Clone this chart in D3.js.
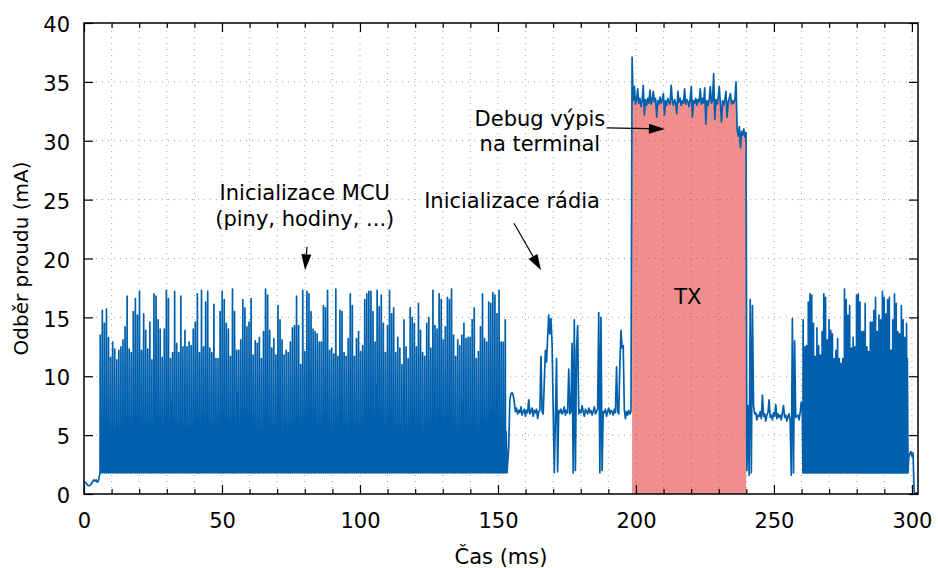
<!DOCTYPE html>
<html>
<head>
<meta charset="utf-8">
<script src="https://cdn.jsdelivr.net/npm/d3@7"></script>
<style>
  html, body { margin: 0; padding: 0; background: #fff; }
  svg { display: block; font-family: "DejaVu Sans", sans-serif; }
</style>
</head>
<body>
<svg id="chart" width="938" height="568"></svg>
<script>
// --- data (time in ms, current in mA) ---

// idle before start, 0 .. 5.2 ms
const startUp = [1.1, 1.0, 0.9, 0.8, 0.7, 0.7, 0.8, 0.9, 1.1, 1.2, 1.1, 1.2, 1.0, 1.1];
const startUpSpan = [0, 5.2];

// MCU init burst: pulse tops and in-between levels, trace returns to burstLow between them
const burstLow = 1.8;
const burst1Span = [5.8, 153.3];
const burst1Tops = [
  13.5, 15.6, 14.5, 15.7, 13.3, 11.6, 12.9, 12.3, 11.4, 12.2, 12.5, 13.1, 14.2, 16.8, 12.3, 12.0,
  15.5, 16.6, 15.2, 17.2, 12.2, 15.3, 13.9, 12.3, 14.6, 11.4, 17.0, 16.8, 14.8, 14.0, 11.6, 14.0,
  17.3, 16.6, 11.5, 12.0, 17.2, 12.8, 12.0, 16.8, 12.5, 13.9, 12.5, 12.9, 12.6, 14.0, 14.6, 17.0,
  12.0, 17.3, 12.5, 16.3, 17.2, 12.4, 12.0, 16.1, 11.5, 11.5, 15.5, 17.2, 16.5, 14.5, 14.0, 11.7,
  17.4, 15.5, 12.2, 12.2, 13.1, 16.5, 15.8, 14.2, 14.6, 16.6, 11.8, 13.0, 12.8, 13.3, 11.5, 13.8,
  17.4, 16.9, 13.9, 12.4, 13.2, 11.8, 16.0, 14.8, 13.1, 11.8, 12.2, 12.0, 12.9, 14.1, 14.3, 16.8,
  14.3, 11.0, 17.3,
  12.1, 17.2, 17.0, 15.5, 14.0, 13.8, 13.6, 12.9, 12.9, 16.0, 15.8, 17.3, 12.2, 12.4, 11.9, 17.4,
  11.7, 15.6, 15.5, 12.0, 11.7, 13.2, 17.0, 16.0, 11.7, 13.2, 13.8, 12.1, 12.6, 16.5, 17.0, 17.2,
  17.2, 15.5, 12.9, 17.3, 15.9, 16.9, 14.5, 12.0, 14.3, 17.3, 15.3, 15.8, 12.0, 13.3, 12.4, 11.0,
  14.8,
  12.5, 11.5, 15.8, 15.0, 14.5, 12.5, 16.2, 13.9, 12.0, 11.7, 14.5, 15.0, 12.4, 17.3, 14.3, 14.0,
  17.0, 16.5, 13.1, 14.2, 16.7, 16.5, 17.4, 13.5, 11.7, 13.1, 12.6, 13.5, 14.5, 13.2, 13.3, 13.3,
  14.8, 15.8, 11.5, 12.1, 14.2, 17.0, 13.2, 12.9, 16.3, 16.2, 17.1, 16.9, 15.3, 17.3, 12.9, 12.9,
  14.8
];
const burst1Mids = [
  5.2, 4.6, 5.8, 4.9, 5.4, 3.8, 5.6, 5.0, 6.1, 4.4, 5.3, 5.9, 4.7, 5.1, 2.6, 5.5, 4.9, 6.3, 5.2, 4.5,
  5.7, 5.0, 4.2, 5.4, 6.0, 4.8, 5.3, 3.5, 5.6, 5.1, 4.9, 5.8, 5.2, 4.4, 7.8, 5.0, 5.5, 4.7, 5.9, 5.3,
  4.8, 5.6, 2.4, 5.1, 5.7, 4.6, 5.3, 6.2, 4.9, 5.0, 5.5, 4.3, 5.8, 5.2, 4.7, 5.4, 3.2, 5.6, 5.0, 6.0,
  4.5, 5.3, 5.1, 4.8, 5.9, 5.2, 8.6, 4.9, 5.4, 4.6, 5.7, 5.0, 3.9, 5.5, 5.2, 4.7, 6.1, 5.3, 4.8, 5.6,
  5.1, 2.8, 5.4, 4.9, 5.8, 5.0, 4.4, 5.6, 5.2, 6.4, 4.7, 5.3, 5.0, 4.6, 5.7, 3.6, 5.2, 5.5, 4.9, 5.1,
  5.9, 4.8, 5.3, 7.2, 5.0, 4.5, 5.6, 5.2, 4.9, 5.4, 2.5, 5.7, 5.1, 4.7, 5.8, 5.0, 5.3, 4.4, 6.0, 5.2,
  4.8, 5.5, 5.1, 3.7, 5.6, 4.9, 5.3, 5.0, 6.2, 4.6, 5.4, 5.2, 4.8, 9.2, 5.1, 5.7, 4.5, 5.3, 5.0, 4.9,
  5.6, 5.2, 2.7, 5.4, 4.8, 5.9, 5.1, 4.6, 5.5, 5.0, 5.3, 6.1, 4.7, 5.2, 3.4, 5.6, 5.0, 4.9, 5.7, 5.1,
  4.5, 5.4, 5.2, 6.3, 4.8, 5.0, 5.5, 2.9, 5.3, 4.7, 5.8, 5.1, 4.9, 5.6, 5.2, 7.5, 4.6, 5.3, 5.0, 5.4,
  4.8, 5.7, 5.1, 3.3, 5.5, 4.9, 5.2, 6.0, 4.6, 5.3, 5.0, 5.6, 4.7, 5.4, 5.1, 4.9, 5.3
];

// radio init, 153.9 .. 198.2 ms
const radioInit = [
  4.0, 8.0, 8.5, 8.6, 8.4, 7.8, 7.0, 7.3,
  6.8, 7.1, 6.9, 7.4, 6.7, 7.0, 7.2, 6.6, 7.1, 6.9, 8.0, 6.8, 7.0, 7.3, 6.6, 7.1, 6.9, 7.2, 6.4, 7.0, 7.1,
  11.7, 7.0, 6.8, 9.5, 12.2, 11.2, 13.3, 15.2, 13.6, 14.9, 12.8, 7.2, 1.8, 6.5, 11.5, 1.9, 7.1,
  6.9, 7.2, 6.8, 7.0, 7.4, 6.7, 7.1, 6.9,
  10.6, 6.8, 7.0, 12.8, 1.8, 14.8, 2.0, 12.2, 14.3, 6.8,
  7.1, 6.9, 7.5, 7.0, 6.6, 7.2, 7.0, 6.8, 7.3, 6.9, 7.1, 6.7, 7.0, 7.4, 6.8, 7.0,
  7.2, 15.4, 1.8, 15.0, 2.0, 7.0,
  6.9, 7.2, 6.6, 7.0, 7.3, 6.8, 7.1, 7.0, 6.7, 7.2, 6.9,
  10.8, 7.0, 6.8, 11.0, 13.9, 12.4, 12.6, 7.2, 6.4, 7.0, 6.7, 7.1, 6.8, 7.0
];
const radioSpan = [153.9, 198.2];

// TX + debug output to terminal, 198.6 .. 239.9 ms
const txDebug = [
  37.1, 33.4, 34.6, 33.1, 33.5, 34.4, 33.2, 33.6, 32.9, 33.4, 34.7, 32.2, 33.5, 33.0, 33.6, 33.2,
  34.3, 33.1, 33.5, 34.2, 33.3, 33.6, 32.0, 33.4, 33.1, 33.7, 33.2, 33.5, 34.0, 32.2, 33.4, 33.0,
  33.6, 33.3, 33.1, 34.7, 33.4, 33.0, 33.5, 33.2, 32.3, 34.2, 33.3, 33.6, 33.0, 33.4, 33.2, 34.4,
  33.1, 33.5, 33.3, 32.9, 33.6, 34.6, 32.0, 33.4, 33.2, 33.6, 33.0, 33.5, 33.3, 34.4, 33.1, 33.6,
  33.2, 34.5, 31.4, 33.4, 33.0, 33.5, 34.6, 33.2, 33.4, 35.7, 31.8, 33.5, 33.1, 33.6, 34.6, 33.2,
  31.6, 33.4, 33.0, 33.5, 34.2, 32.0, 33.3, 33.6, 34.0, 33.1, 33.4, 33.2, 33.5, 35.0,
  31.0, 30.4, 31.2, 29.4, 30.8, 30.5, 31.0, 30.3, 30.7
];
const txSpan = [198.6, 239.9];

// after TX, 240.2 .. 260.3 ms
const postTx = [
  2.0, 7.5, 1.6, 16.5, 1.8, 16.0, 7.5, 6.8,
  6.9, 6.3, 6.7, 6.6, 7.0, 6.4, 8.4, 6.6, 6.8, 6.2, 6.7, 6.9, 8.0, 6.5, 6.7, 6.3, 6.9, 6.6,
  7.6, 6.4, 6.8, 6.5, 6.7, 6.3, 6.9, 7.5, 6.5, 6.7, 6.2, 6.6, 6.8, 6.2,
  1.6, 14.9, 1.8, 13.0, 6.5,
  6.6, 6.7, 6.3, 6.9, 7.8, 6.8
];
const postTxSpan = [240.2, 260.3];

// second burst, 260.5 .. 298.6 ms
const burst2Span = [260.5, 298.6];
const burst2Tops = [
  14.8, 12.5, 12.6, 16.3, 17.0, 16.9, 14.5, 11.7, 14.1, 12.6, 11.8, 13.8, 17.0, 16.7, 13.1, 14.8,
  13.9, 13.6, 11.5, 12.2, 13.2, 11.5, 11.1, 11.5, 17.4, 16.5, 15.2, 16.0, 12.4, 13.3, 12.5,
  16.9, 17.0, 16.3, 13.8, 13.8, 16.2, 12.5, 12.1, 14.6, 14.6, 15.6, 16.7, 13.8, 15.2, 14.8,
  17.2, 16.7, 15.3, 16.5, 16.7, 12.2, 14.8, 17.0, 16.2, 13.8, 13.6, 16.0, 14.8, 13.3, 14.5
];
const burst2Mids = [
  5.3, 4.8, 5.6, 5.0, 2.6, 5.4, 4.9, 5.8, 5.1, 4.6, 5.5, 5.2, 6.4, 4.8, 5.3, 3.1,
  5.7, 5.0, 4.7, 5.4, 5.2, 5.9, 4.6, 5.1, 2.8, 5.5, 5.0, 5.3, 4.9, 5.6, 5.2,
  11.6, 12.2, 10.8, 11.9, 12.4, 11.3, 10.6, 12.0, 11.7, 12.6, 11.1, 11.8, 12.3, 10.9, 11.5,
  12.1, 11.4, 12.5, 11.0, 11.8, 12.2, 11.3, 10.7, 12.0, 11.6, 12.4, 11.2, 11.9, 12.1, 11.5
];

// end of capture, 298.8 .. 302.4 ms
const tail = [3.0, 3.4, 3.6, 3.2, 3.5, 0.2, 0.0, 0.1, 0.0, 0.0];
const tailSpan = [298.8, 302.4];

const xRange = [0, 302.2];
const yRange = [0, 40];
const xMajorTicks = [0, 50, 100, 150, 200, 250, 300];
const yTicks = [0, 5, 10, 15, 20, 25, 30, 35, 40];

// --- helpers ---
function uniform(values, span) {
  const dt = (span[1] - span[0]) / (values.length - 1);
  return values.map((v, i) => ({ t: span[0] + i * dt, v }));
}
// one period = short tall pulse, then a wider low-level pulse
function pulses(tops, mids, span, low) {
  const dt = (span[1] - span[0]) / tops.length;
  const pts = [];
  tops.forEach((peak, i) => {
    const t0 = span[0] + i * dt;
    pts.push({ t: t0, v: low }, { t: t0 + dt * 0.12, v: peak },
             { t: t0 + dt * 0.26, v: low }, { t: t0 + dt * 0.58, v: mids[i] });
  });
  pts.push({ t: span[1], v: low });
  return pts;
}

const txPts = uniform(txDebug, txSpan);
const trace = [].concat(
  uniform(startUp, startUpSpan),
  pulses(burst1Tops, burst1Mids, burst1Span, burstLow),
  uniform(radioInit, radioSpan),
  txPts,
  uniform(postTx, postTxSpan),
  pulses(burst2Tops, burst2Mids, burst2Span, burstLow),
  uniform(tail, tailSpan)
);

// --- layout ---
const margin = { left: 84, right: 20, top: 23, bottom: 74 };
const W = 938, H = 568;
const x = d3.scaleLinear().domain(xRange).range([margin.left, W - margin.right]);
const y = d3.scaleLinear().domain(yRange).range([H - margin.bottom, margin.top]);
const blue = '#0060ad';

const svg = d3.select('#chart');
const plotBottom = y(yRange[0]), plotTop = y(yRange[1]);
const plotLeft = x(xRange[0]), plotRight = x(xRange[1]);

svg.append('clipPath').attr('id', 'plot-clip')
  .append('rect')
  .attr('x', plotLeft).attr('y', plotTop)
  .attr('width', plotRight - plotLeft)
  .attr('height', plotBottom - plotTop);

// grid
const minorX = d3.range(10, 301, 10);
const grid = svg.append('g').attr('stroke', '#a0a0a0').attr('stroke-width', 1)
  .attr('stroke-dasharray', '1,5');
grid.selectAll('line.gx').data(minorX).enter().append('line')
  .attr('x1', d => x(d)).attr('x2', d => x(d))
  .attr('y1', plotBottom).attr('y2', plotTop);
grid.selectAll('line.gy').data(yTicks.slice(1, -1)).enter().append('line')
  .attr('x1', plotLeft).attr('x2', plotRight)
  .attr('y1', d => y(d)).attr('y2', d => y(d));

const plot = svg.append('g').attr('clip-path', 'url(#plot-clip)');

// TX area
plot.append('path')
  .datum(txPts)
  .attr('fill', 'rgb(226,28,28)')
  .attr('fill-opacity', 0.5)
  .attr('d', d3.area().x(d => x(d.t)).y0(y(0)).y1(d => y(d.v)));

// current trace
plot.append('path')
  .datum(trace)
  .attr('fill', 'none')
  .attr('stroke', blue)
  .attr('stroke-width', 1.7)
  .attr('stroke-linejoin', 'round')
  .attr('d', d3.line().x(d => x(d.t)).y(d => y(d.v)));

// axes, ticks pointing inward
const minorOnly = minorX.filter(d => d % 50 !== 0);

function styleAxis(g) {
  g.select('.domain').remove();
  g.selectAll('line').attr('stroke', '#000').attr('stroke-width', 1.2);
  g.selectAll('text').attr('fill', '#000').style('font-size', '21px')
    .style('font-family', '"DejaVu Sans", sans-serif');
}

svg.append('g').attr('transform', `translate(0,${plotBottom})`)
  .call(d3.axisBottom(x).tickValues(xMajorTicks).tickSize(-9).tickPadding(19).tickSizeOuter(0))
  .call(styleAxis);
svg.append('g').attr('transform', `translate(0,${plotBottom})`)
  .call(d3.axisBottom(x).tickValues(minorOnly).tickSize(-5).tickFormat('').tickSizeOuter(0))
  .call(styleAxis);
svg.append('g').attr('transform', `translate(0,${plotTop})`)
  .call(d3.axisTop(x).tickValues(xMajorTicks).tickSize(-9).tickFormat('').tickSizeOuter(0))
  .call(styleAxis);
svg.append('g').attr('transform', `translate(0,${plotTop})`)
  .call(d3.axisTop(x).tickValues(minorOnly).tickSize(-5).tickFormat('').tickSizeOuter(0))
  .call(styleAxis);
svg.append('g').attr('transform', `translate(${plotLeft},0)`)
  .call(d3.axisLeft(y).tickValues(yTicks).tickSize(-9).tickPadding(14).tickSizeOuter(0))
  .call(styleAxis)
  .selectAll('text').attr('dy', '0.41em');
svg.append('g').attr('transform', `translate(${plotRight},0)`)
  .call(d3.axisRight(y).tickValues(yTicks).tickSize(-9).tickFormat('').tickSizeOuter(0))
  .call(styleAxis);

// border
svg.append('rect')
  .attr('x', plotLeft).attr('y', plotTop)
  .attr('width', plotRight - plotLeft).attr('height', plotBottom - plotTop)
  .attr('fill', 'none').attr('stroke', '#000').attr('stroke-width', 1.5);

// axis titles
svg.append('text')
  .attr('x', (plotLeft + plotRight) / 2).attr('y', 564)
  .attr('text-anchor', 'middle').style('font-size', '21px')
  .text('Čas (ms)');
svg.append('text')
  .attr('transform', `translate(28,${(plotTop + plotBottom) / 2}) rotate(-90)`)
  .attr('text-anchor', 'middle').style('font-size', '20px')
  .text('Odběr proudu (mA)');

// annotations (data coordinates)
const notes = [
  { t: 80, v: 25.0, text: 'Inicializace MCU' },
  { t: 80, v: 22.8, text: '(piny, hodiny, ...)' },
  { t: 155.1, v: 24.3, text: 'Inicializace rádia' },
  { t: 165.2, v: 31.25, text: 'Debug výpis' },
  { t: 165.2, v: 29.1, text: 'na terminal' },
  { t: 218.8, v: 16.1, text: 'TX' }
];
svg.append('g').selectAll('text').data(notes).enter().append('text')
  .attr('x', d => x(d.t)).attr('y', d => y(d.v))
  .attr('text-anchor', 'middle').style('font-size', '21px')
  .text(d => d.text);

const arrows = [
  { from: [80.8, 21.0], to: [80.1, 19.0] },
  { from: [155.8, 23.0], to: [165.6, 19.0] },
  { from: [189.4, 31.1], to: [210.5, 31.0] }
];
const headLen = 16, headHalf = 5;
const ag = svg.append('g');
arrows.forEach(a => {
  const x0 = x(a.from[0]), y0 = y(a.from[1]);
  const x1 = x(a.to[0]), y1 = y(a.to[1]);
  const len = Math.hypot(x1 - x0, y1 - y0);
  const ux = (x1 - x0) / len, uy = (y1 - y0) / len;
  const bx = x1 - ux * headLen, by = y1 - uy * headLen;
  ag.append('line').attr('x1', x0).attr('y1', y0).attr('x2', bx).attr('y2', by)
    .attr('stroke', '#000').attr('stroke-width', 1.2);
  ag.append('path')
    .attr('d', `M${x1},${y1}L${bx - uy * headHalf},${by + ux * headHalf}L${bx + uy * headHalf},${by - ux * headHalf}Z`)
    .attr('fill', '#000');
});
</script>
</body>
</html>
